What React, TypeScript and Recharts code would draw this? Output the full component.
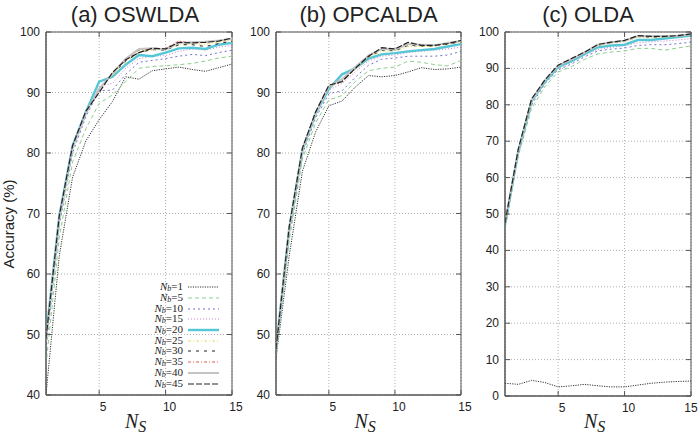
import { CartesianGrid, Legend, Line, LineChart, ReferenceArea, XAxis, YAxis } from "recharts";

const nsValues = [1, 2, 3, 4, 5, 6, 7, 8, 9, 10, 11, 12, 13, 14, 15];
const nbValues = [1, 5, 10, 15, 20, 25, 30, 35, 40, 45];
const xTicks = [5, 10, 15];
const yTicksHigh = [40, 50, 60, 70, 80, 90, 100];
const yTicksFull = [0, 10, 20, 30, 40, 50, 60, 70, 80, 90, 100];

// accuracy (%) per Nb (rows follow nbValues), per Ns (columns follow nsValues)
const oswldaAcc = [
  [40.0, 63.0, 76.0, 82.0, 85.5, 88.5, 92.6, 92.2, 93.6, 93.9, 94.2, 93.8, 93.5, 94.1, 94.7],
  [45.0, 66.0, 78.5, 84.0, 88.2, 89.6, 91.8, 94.0, 94.3, 94.4, 94.6, 94.8, 95.2, 95.7, 96.0],
  [47.5, 68.0, 80.0, 86.0, 90.3, 90.4, 93.0, 95.0, 95.3, 95.6, 96.0, 96.3, 96.1, 96.6, 97.0],
  [48.5, 68.5, 80.5, 86.3, 91.0, 91.5, 94.0, 95.6, 96.0, 96.1, 96.8, 97.2, 97.0, 97.5, 97.8],
  [49.5, 69.5, 81.2, 86.8, 91.8, 92.6, 94.6, 96.2, 96.0, 96.6, 97.3, 97.4, 97.2, 97.9, 98.2],
  [48.8, 69.0, 80.8, 86.5, 90.8, 92.8, 95.0, 96.8, 97.0, 97.2, 97.8, 98.0, 98.0, 98.3, 98.6],
  [49.0, 69.2, 81.0, 86.6, 90.5, 93.0, 95.2, 96.6, 97.1, 97.0, 97.9, 97.9, 97.6, 98.1, 98.5],
  [49.2, 69.4, 81.0, 86.7, 90.4, 93.2, 95.3, 97.0, 97.2, 97.3, 98.5, 98.2, 98.3, 98.5, 98.8],
  [49.0, 69.0, 80.8, 86.6, 90.6, 93.1, 95.6, 97.2, 97.3, 97.1, 98.2, 98.3, 98.4, 98.6, 98.9],
  [49.3, 69.6, 81.2, 86.9, 90.0, 93.3, 95.4, 96.6, 97.3, 97.2, 98.3, 98.2, 98.3, 98.5, 99.0],
];

const opcaldaAcc = [
  [46.0, 63.0, 77.0, 83.5, 87.8, 88.6, 90.9, 92.8, 92.6, 92.8, 93.4, 94.1, 93.8, 93.9, 94.2],
  [46.5, 65.5, 79.0, 85.0, 88.8, 89.5, 91.8, 93.6, 94.0, 94.2, 95.2, 95.0, 94.6, 94.4, 95.3],
  [47.0, 66.5, 79.8, 85.8, 89.8, 90.3, 92.5, 94.5, 95.5, 95.7, 96.0, 96.0, 96.0, 96.2, 96.8],
  [47.2, 67.0, 80.2, 86.2, 90.4, 91.5, 93.4, 95.2, 96.0, 96.2, 96.6, 96.8, 97.0, 97.2, 97.5],
  [47.5, 67.5, 80.5, 86.5, 90.6, 93.0, 94.0, 95.6, 96.3, 96.5, 96.8, 97.0, 97.2, 97.6, 98.0],
  [47.3, 67.2, 80.4, 86.4, 90.8, 92.0, 93.8, 95.8, 96.8, 96.9, 97.6, 97.6, 97.6, 98.0, 98.3],
  [47.4, 67.4, 80.6, 86.6, 91.0, 91.8, 94.0, 95.9, 97.0, 96.9, 97.8, 97.7, 97.7, 98.0, 98.4],
  [47.5, 67.6, 80.7, 86.7, 91.1, 91.9, 94.1, 96.0, 97.3, 97.1, 98.2, 97.8, 97.8, 98.1, 98.5],
  [47.4, 67.5, 80.6, 86.6, 91.0, 92.2, 94.2, 96.1, 97.2, 97.1, 98.0, 97.9, 97.8, 98.2, 98.5],
  [47.6, 67.8, 80.8, 86.8, 91.2, 91.8, 94.0, 96.0, 97.4, 97.2, 98.3, 97.8, 97.8, 98.1, 98.6],
];

const oldaAcc = [
  [3.5, 3.2, 4.3, 3.7, 2.5, 2.8, 3.2, 2.8, 2.5, 2.5, 3.0, 3.5, 3.8, 4.0, 4.1],
  [46.0, 66.0, 79.0, 85.0, 89.0, 90.5, 92.5, 94.0, 94.5, 94.8, 95.5, 95.5, 95.0, 95.6, 96.2],
  [46.5, 66.5, 80.0, 85.8, 89.6, 91.2, 93.2, 94.8, 95.3, 95.6, 96.3, 96.5, 96.5, 96.8, 97.2],
  [47.0, 67.0, 80.5, 86.2, 90.0, 91.6, 93.6, 95.2, 95.8, 96.2, 97.0, 97.3, 97.5, 97.8, 98.2],
  [47.0, 67.2, 81.0, 86.3, 90.4, 92.0, 94.0, 95.8, 96.3, 96.5, 97.8, 97.8, 98.2, 98.6, 99.0],
  [47.2, 67.4, 81.2, 86.5, 90.6, 92.4, 94.3, 96.2, 96.9, 97.3, 98.5, 98.4, 98.6, 98.8, 99.2],
  [47.3, 67.5, 81.3, 86.6, 90.7, 92.5, 94.4, 96.4, 97.0, 97.5, 98.8, 98.6, 98.7, 98.9, 99.3],
  [47.4, 67.6, 81.4, 86.7, 90.8, 92.6, 94.5, 96.5, 97.1, 97.6, 98.9, 98.7, 98.8, 99.0, 99.4],
  [47.3, 67.5, 81.3, 86.7, 90.8, 92.5, 94.4, 96.5, 97.2, 97.6, 98.8, 98.8, 98.8, 99.0, 99.4],
  [47.5, 67.8, 81.6, 86.8, 90.9, 92.7, 94.5, 96.6, 97.2, 97.7, 99.0, 98.8, 98.8, 99.0, 99.5],
];

const lineStyles: Record<number, { color: string; dash?: string; width: number }> = {
  1: { color: "#333", dash: "1.2 1.2", width: 1 },
  5: { color: "#8ccf8c", dash: "4 3", width: 1 },
  10: { color: "#7070d0", dash: "2 3", width: 1 },
  15: { color: "#c77fd0", dash: "1 2", width: 1 },
  20: { color: "#55c6d6", width: 2.4 },
  25: { color: "#e6dc6a", dash: "3 2 1 2", width: 1 },
  30: { color: "#222", dash: "3 5", width: 1 },
  35: { color: "#e06050", dash: "3 2 1 2", width: 1 },
  40: { color: "#c4c4c4", width: 2 },
  45: { color: "#222", dash: "6 2", width: 1.2 },
};

const AXIS = "#555";
const TEXT = "#222";
const H = 436;

function toRows(acc: number[][]) {
  return nsValues.map((ns, i) => {
    const row: Record<string, number> = { ns };
    nbValues.forEach((nb, j) => {
      row[`nb${nb}`] = acc[j][i];
    });
    return row;
  });
}

function makeYTick(plotWidth: number) {
  return (props: any) => {
    const { x, y, payload } = props;
    const ax = x + 6;
    return (
      <g>
        <line x1={ax} x2={ax + 5} y1={y} y2={y} stroke={AXIS} />
        <line x1={ax + plotWidth - 5} x2={ax + plotWidth} y1={y} y2={y} stroke={AXIS} />
        <text x={x} y={y} dy={4} textAnchor="end" fontSize={12} fill={TEXT}>
          {payload.value}
        </text>
      </g>
    );
  };
}

function makeXTick(plotHeight: number, maxLabelX: number) {
  return (props: any) => {
    const { x, y, payload } = props;
    return (
      <g>
        <line x1={x} x2={x} y1={y - 5} y2={y} stroke={AXIS} />
        <line x1={x} x2={x} y1={y - plotHeight} y2={y - plotHeight + 5} stroke={AXIS} />
        <text x={Math.min(x + 4, maxLabelX)} y={y} dy={15.5} textAnchor="middle" fontSize={12} fill={TEXT}>
          {payload.value}
        </text>
      </g>
    );
  };
}

function LegendBox() {
  return (
    <div style={{ fontFamily: "'Liberation Serif', serif", fontSize: 11, color: TEXT }}>
      {nbValues.map((nb) => {
        const s = lineStyles[nb];
        return (
          <div key={nb} style={{ display: "flex", alignItems: "center", height: 10.7 }}>
            <span style={{ width: 43, textAlign: "right", lineHeight: "10px", whiteSpace: "nowrap" }}>
              <i>N</i>
              <i style={{ fontSize: 8, position: "relative", top: 1 }}>b</i>=
              {nb}
            </span>
            <svg width={36} height={10}>
              <line
                x1={5}
                x2={36}
                y1={5}
                y2={5}
                stroke={s.color}
                strokeDasharray={s.dash}
                strokeWidth={s.width}
              />
            </svg>
          </div>
        );
      })}
    </div>
  );
}

type PanelProps = {
  acc: number[][];
  left: number;
  width: number;
  yWidth: number;
  right: number;
  bottom: number;
  yDomain: [number, number];
  yTicks: number[];
  maxLabelX?: number;
  legend?: boolean;
};

function Panel({ acc, left, width, yWidth, right, bottom, yDomain, yTicks, maxLabelX = 9999, legend }: PanelProps) {
  const top = 32;
  const xHeight = 20;
  const plotWidth = width - right - yWidth;
  const plotHeight = H - top - bottom - xHeight;
  return (
    <div style={{ position: "absolute", left, top: 0 }}>
      <LineChart
        width={width}
        height={H}
        data={toRows(acc)}
        margin={{ top, right, bottom, left: 0 }}
      >
        <CartesianGrid stroke="#b0b0b0" strokeDasharray="1 2" />
        <XAxis
          type="number"
          dataKey="ns"
          domain={[1, 15]}
          ticks={xTicks}
          interval={0}
          allowDataOverflow
          height={xHeight}
          tickSize={0}
          tickMargin={0}
          tickLine={false}
          axisLine={{ stroke: AXIS }}
          tick={makeXTick(plotHeight, maxLabelX)}
        />
        <YAxis
          type="number"
          domain={yDomain}
          ticks={yTicks}
          interval={0}
          allowDataOverflow
          width={yWidth}
          tickSize={0}
          tickMargin={6}
          tickLine={false}
          axisLine={{ stroke: AXIS }}
          tick={makeYTick(plotWidth)}
        />
        <ReferenceArea
          x1={1}
          x2={15}
          y1={yDomain[0]}
          y2={yDomain[1]}
          fill="none"
          stroke={AXIS}
          strokeWidth={1}
        />
        {legend ? (
          <Legend
            layout="vertical"
            align="center"
            verticalAlign="middle"
            content={() => <LegendBox />}
            wrapperStyle={{ left: 140, top: 282, width: 80 }}
          />
        ) : null}
        {nbValues.map((nb) => {
          const s = lineStyles[nb];
          return (
            <Line
              key={nb}
              type="linear"
              dataKey={`nb${nb}`}
              name={`Nb=${nb}`}
              stroke={s.color}
              strokeDasharray={s.dash}
              strokeWidth={s.width}
              dot={false}
              isAnimationActive={false}
            />
          );
        })}
      </LineChart>
    </div>
  );
}

const titleStyle = {
  position: "absolute" as const,
  top: 2,
  fontSize: 22,
  lineHeight: "25px",
  color: TEXT,
  textAlign: "center" as const,
  width: 200,
};

export default function App() {
  return (
    <div
      style={{
        position: "absolute",
        left: 0,
        top: 0,
        width: 700,
        height: H,
        background: "#fff",
        fontFamily: "'Liberation Sans', Arial, sans-serif",
        overflow: "hidden",
      }}
    >
      <Panel acc={oswldaAcc} left={0} width={250} yWidth={46} right={18} bottom={21} yDomain={[40, 100]} yTicks={yTicksHigh} legend />
      <Panel acc={opcaldaAcc} left={240} width={240} yWidth={36} right={19} bottom={21} yDomain={[40, 100]} yTicks={yTicksHigh} />
      <Panel acc={oldaAcc} left={470} width={240} yWidth={35} right={19} bottom={20} yDomain={[0, 100]} yTicks={yTicksFull} maxLabelX={221} />

      <div style={{ ...titleStyle, left: 135 - 100 }}>(a) OSWLDA</div>
      <div style={{ ...titleStyle, left: 368.5 - 100 }}>(b) OPCALDA</div>
      <div style={{ ...titleStyle, left: 588 - 100 }}>(c) OLDA</div>

      <svg width={700} height={H} style={{ position: "absolute", left: 0, top: 0, pointerEvents: "none" }}>
        <text
          transform="translate(14, 224) rotate(-90)"
          textAnchor="middle"
          fontSize={15}
          fill={TEXT}
          fontFamily="'Liberation Sans', Arial, sans-serif"
        >
          Accuracy (%)
        </text>
        {[125, 354.5, 584].map((x) => (
          <text key={x} x={x} y={428} fontFamily="'Liberation Serif', serif" fontStyle="italic" fontSize={20} fill={TEXT}>
            N
            <tspan fontSize={16} dy={4}>
              S
            </tspan>
          </text>
        ))}
      </svg>
    </div>
  );
}
